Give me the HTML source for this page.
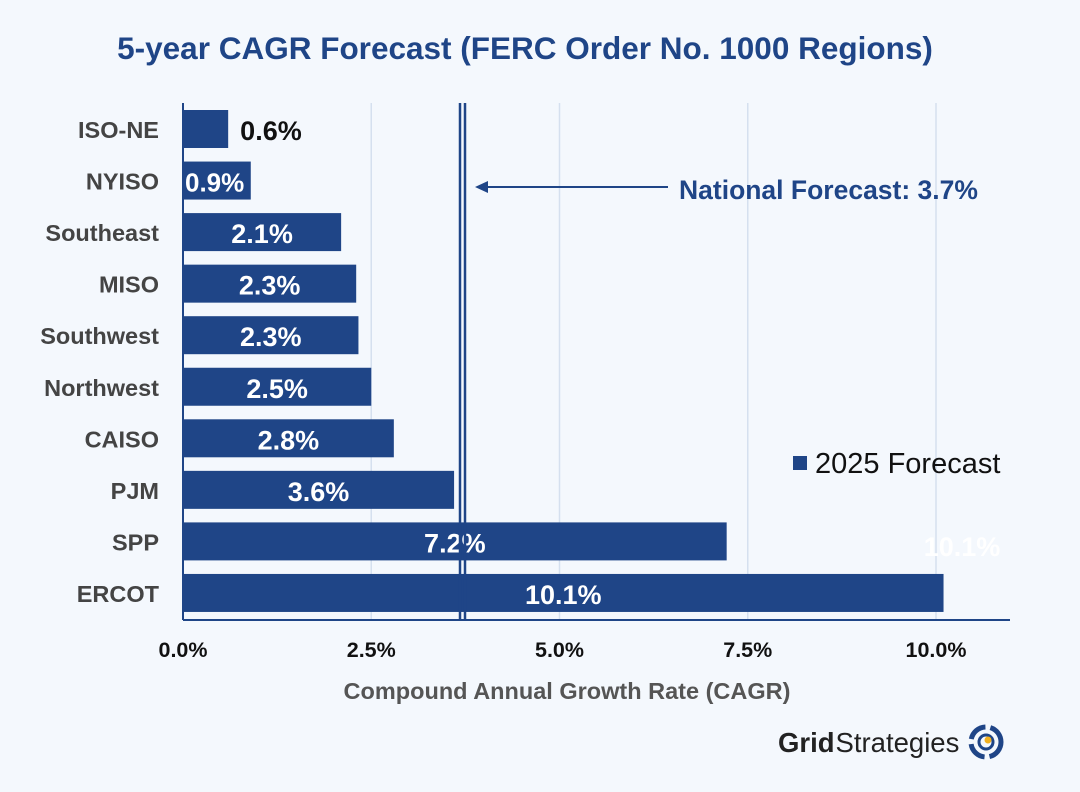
<!DOCTYPE html>
<html><head><meta charset="utf-8"><style>
body{margin:0;background:#f4f8fd;}
svg{display:block;font-family:"Liberation Sans",Arial,sans-serif;}
</style></head><body>
<svg id="c" width="1080" height="792" viewBox="0 0 1080 792">
<rect width="1080" height="792" fill="#f4f8fd"/>
<text x="525" y="59" text-anchor="middle" font-size="31.5" font-weight="bold" fill="#1f4587">5-year CAGR Forecast (FERC Order No. 1000 Regions)</text>
<g id="grid"></g>
<g id="bars"></g>
<line x1="460" y1="103" x2="460" y2="620" stroke="#1f4587" stroke-width="2.5"/>
<line x1="465" y1="103" x2="465" y2="620" stroke="#1f4587" stroke-width="2.5"/>
<line x1="484" y1="187" x2="668" y2="187" stroke="#1f4587" stroke-width="2"/>
<polygon points="475,187 488,181 488,193" fill="#1f4587"/>
<text x="679" y="199" font-size="26.5" font-weight="bold" fill="#1f4587">National Forecast: 3.7%</text>
<line x1="183" y1="620" x2="1010" y2="620" stroke="#1f4587" stroke-width="2"/>
<line x1="183" y1="103" x2="183" y2="620" stroke="#1f4587" stroke-width="2"/>
<g id="ticks"></g>
<text x="567" y="699" text-anchor="middle" font-size="23.5" font-weight="bold" fill="#555">Compound Annual Growth Rate (CAGR)</text>
<rect x="793" y="456" width="14" height="14" fill="#1f4587"/>
<text x="815" y="473" font-size="29" fill="#111">2025 Forecast</text>
<text x="962" y="556" text-anchor="middle" font-size="27" font-weight="bold" fill="#ffffff">10.1%</text>
<g>
<text x="778" y="752" font-size="27.5" fill="#222"><tspan font-weight="bold">Grid</tspan><tspan dx="1">Strategies</tspan></text>
<circle cx="986" cy="742" r="15" fill="none" stroke="#1f4587" stroke-width="5" stroke-dasharray="20 5"/>
<circle cx="986" cy="742" r="7" fill="none" stroke="#1f4587" stroke-width="3"/>
<circle cx="988" cy="740" r="3.5" fill="#f2b01e"/>
</g>
</svg>
<script>
const categories=["ISO-NE","NYISO","Southeast","MISO","Southwest","Northwest","CAISO","PJM","SPP","ERCOT"];
const values=[0.6,0.9,2.1,2.3,2.33,2.5,2.8,3.6,7.22,10.1];
const labels=["0.6%","0.9%","2.1%","2.3%","2.3%","2.5%","2.8%","3.6%","7.2%","10.1%"];
const ticks=[0,2.5,5,7.5,10];
const tickLabels=["0.0%","2.5%","5.0%","7.5%","10.0%"];
const NS="http://www.w3.org/2000/svg";
const x=v=>183+v*75.3;
const y=i=>110+i*51.55;
function mk(t,a,p){const e=document.createElementNS(NS,t);for(const k in a)e.setAttribute(k,a[k]);p.appendChild(e);return e;}
const g=document.getElementById('grid'),b=document.getElementById('bars'),tk=document.getElementById('ticks');
ticks.forEach((t,i)=>{
 if(t>0){const l=mk('line',{x1:x(t),x2:x(t),y1:103,y2:620,stroke:'#d5e0ef','stroke-width':1.5},g);
 
 }
 const tx=mk('text',{x:x(t),y:657,'text-anchor':'middle','font-size':21.5,'font-weight':'bold',fill:'#111'},tk);
 tx.textContent=tickLabels[i];
 
 
});
categories.forEach((c,i)=>{
 const r=mk('rect',{x:183,y:y(i),width:x(values[i])-183,height:38,fill:'#1f4587'},b);
 
 
 const cl=mk('text',{x:159,y:y(i)+28,'text-anchor':'end','font-size':23.5,'font-weight':'bold',fill:'#444'},b);
 cl.textContent=c;
 
 
 const w=x(values[i])-183;
 let vl;
 if(w<60){vl=mk('text',{x:x(values[i])+12,y:y(i)+30,'font-size':27,'font-weight':'bold',fill:'#111'},b);}
 else if(w<80){vl=mk('text',{x:185,y:y(i)+30,'font-size':26,'font-weight':'bold',fill:'#fff'},b);}
 else{vl=mk('text',{x:183+w/2,y:y(i)+30,'text-anchor':'middle','font-size':27,'font-weight':'bold',fill:'#fff'},b);}
 vl.textContent=labels[i];
 
 
});
</script>
</body></html>
